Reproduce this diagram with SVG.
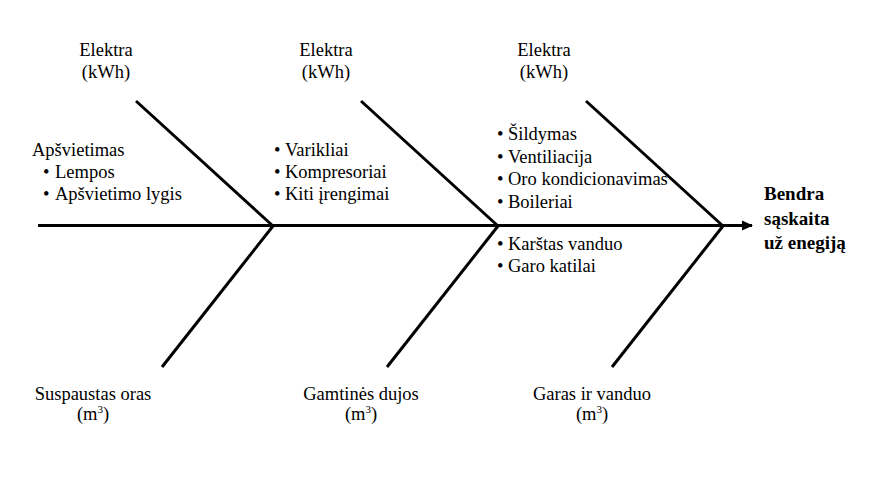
<svg xmlns="http://www.w3.org/2000/svg" width="878" height="485" viewBox="0 0 878 485">
<style>
text{font-family:"Liberation Serif","Times New Roman",serif;font-size:18.5px;fill:#000}
.t{font-weight:bold;font-size:19px}
.m{text-anchor:middle}
.bone{stroke:#000;stroke-width:3;fill:none;stroke-linecap:butt}
</style>
<defs>
<marker id="ah" markerWidth="12" markerHeight="12" refX="10" refY="6" orient="auto" markerUnits="userSpaceOnUse">
<path d="M0,1 L11,6 L0,11 Z" fill="#000"/>
</marker>
</defs>
<rect width="878" height="485" fill="#fff"/>
<g id="connectors">
<line class="bone" x1="38" y1="225.5" x2="752" y2="225.5" marker-end="url(#ah)"/>
<line class="bone" x1="136" y1="101" x2="273" y2="226"/>
<line class="bone" x1="273" y1="226" x2="162" y2="367"/>
<line class="bone" x1="361" y1="101" x2="498" y2="226"/>
<line class="bone" x1="498" y1="226" x2="387" y2="367"/>
<line class="bone" x1="586" y1="101" x2="723" y2="226"/>
<line class="bone" x1="723" y1="226" x2="612" y2="367"/>
</g>
<g id="elektra1"><text class="m" x="106" y="56">Elektra</text><text class="m" x="106" y="78">(kWh)</text></g>
<g id="elektra2"><text class="m" x="326" y="56">Elektra</text><text class="m" x="326" y="78">(kWh)</text></g>
<g id="elektra3"><text class="m" x="544" y="56">Elektra</text><text class="m" x="544" y="78">(kWh)</text></g>
<g id="apsvietimas">
<text x="32" y="156">Apšvietimas</text>
<text x="43" y="178">•<tspan x="55">Lempos</tspan></text>
<text x="43" y="200">•<tspan x="55">Apšvietimo lygis</tspan></text>
</g>
<g id="varikliai">
<text x="274" y="156">•<tspan x="285">Varikliai</tspan></text>
<text x="274" y="178">•<tspan x="285">Kompresoriai</tspan></text>
<text x="274" y="200">•<tspan x="285">Kiti įrengimai</tspan></text>
</g>
<g id="sildymas">
<text x="497" y="140">•<tspan x="508">Šildymas</tspan></text>
<text x="497" y="163">•<tspan x="508">Ventiliacija</tspan></text>
<text x="497" y="185">•<tspan x="508">Oro kondicionavimas</tspan></text>
<text x="497" y="208">•<tspan x="508">Boileriai</tspan></text>
<text x="497" y="250">•<tspan x="508">Karštas vanduo</tspan></text>
<text x="497" y="272">•<tspan x="508">Garo katilai</tspan></text>
</g>
<g id="result">
<text class="t" x="764" y="200">Bendra</text>
<text class="t" x="764" y="225">sąskaita</text>
<text class="t" x="764" y="249">už enegiją</text>
</g>
<g id="oras"><text class="m" x="93" y="400">Suspaustas oras</text><text class="m" x="93" y="420">(m<tspan dy="-7" font-size="11">3</tspan><tspan dy="7">)</tspan></text></g>
<g id="dujos"><text class="m" x="361" y="400">Gamtinės dujos</text><text class="m" x="361" y="420">(m<tspan dy="-7" font-size="11">3</tspan><tspan dy="7">)</tspan></text></g>
<g id="garas"><text class="m" x="592" y="400">Garas ir vanduo</text><text class="m" x="592" y="420">(m<tspan dy="-7" font-size="11">3</tspan><tspan dy="7">)</tspan></text></g>
</svg>
